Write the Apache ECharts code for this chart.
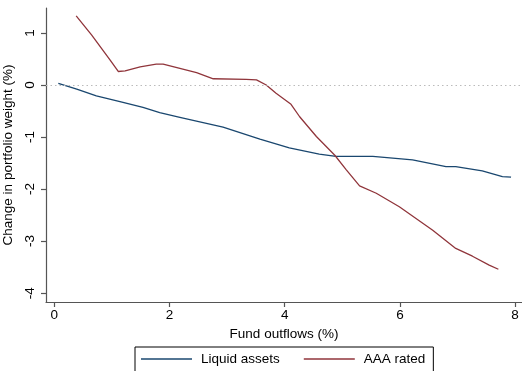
<!DOCTYPE html>
<html><head><meta charset="utf-8">
<script src="https://cdn.jsdelivr.net/npm/echarts@6/dist/echarts.min.js"></script>
<style>html,body{margin:0;padding:0;background:#fff}#c{width:522px;height:371px}</style>
</head><body><div id="c"></div>
<script>
const liquidX = [0.07,0.39,0.73,1.14,1.54,1.83,2.18,2.93,3.57,4.08,4.60,4.89,5.53,6.22,6.80,6.97,7.43,7.78,7.93];
const liquidY = [0.03,-0.08,-0.21,-0.32,-0.43,-0.53,-0.62,-0.81,-1.04,-1.21,-1.33,-1.37,-1.37,-1.44,-1.57,-1.57,-1.65,-1.76,-1.77];
const aaaX = [0.38,0.65,0.97,1.11,1.23,1.49,1.77,1.89,2.18,2.47,2.76,3.33,3.51,3.68,3.85,4.11,4.26,4.55,4.87,5.07,5.30,5.59,5.99,6.57,6.97,7.26,7.55,7.71];
const aaaY = [1.33,0.96,0.48,0.26,0.27,0.35,0.40,0.40,0.32,0.24,0.12,0.11,0.10,0.0,-0.16,-0.37,-0.61,-0.99,-1.35,-1.63,-1.94,-2.08,-2.34,-2.79,-3.14,-3.29,-3.46,-3.54];
const xTicks = [0,2,4,6,8];
const yTicks = [-4,-3,-2,-1,0,1];
const seriesNames = ['Liquid assets','AAA rated'];
const F = 'Liberation Sans, Arial, sans-serif';
const zip = (a,b)=>a.map((v,i)=>[v,b[i]]);
const chart = echarts.init(document.getElementById('c'));
chart.setOption({
  animation:false,
  backgroundColor:'#fff',
  grid:{left:46,top:8,right:0,bottom:69,containLabel:false,outerBoundsMode:'none'},
  xAxis:{type:'value',min:-0.144,max:8.12,
    name:'Fund outflows (%)',nameLocation:'middle',nameGap:21,
    nameTextStyle:{fontFamily:F,fontSize:13.5,color:'#000'},
    axisLine:{show:true,onZero:false,lineStyle:{color:'#555',width:1.2}},
    axisTick:{show:true,length:5,customValues:xTicks,lineStyle:{color:'#555',width:1.2}},
    axisLabel:{customValues:xTicks,margin:6,fontFamily:F,fontSize:13.5,color:'#000'},
    splitLine:{show:false}},
  yAxis:{type:'value',min:-4.17,max:1.48,
    name:'Change in portfolio weight (%)',nameLocation:'middle',nameGap:18,nameRotate:90,
    nameTextStyle:{fontFamily:F,fontSize:13.5,color:'#000'},
    axisLine:{show:true,onZero:false,lineStyle:{color:'#555',width:1.2}},
    axisTick:{show:true,length:5,customValues:yTicks,lineStyle:{color:'#555',width:1.2}},
    axisLabel:{customValues:yTicks,rotate:90,margin:9,fontFamily:F,fontSize:13.5,color:'#000'},
    splitLine:{show:false}},
  legend:{left:135,top:347,padding:[5,8,12,6],borderColor:'#000',borderWidth:1,
    itemWidth:51,itemHeight:1.5,itemGap:24,icon:'rect',
    textStyle:{fontFamily:F,fontSize:13.5,color:'#000',padding:[0,0,0,4]},
    data:seriesNames},
  series:[
    {name:seriesNames[0],type:'line',data:zip(liquidX,liquidY),showSymbol:false,symbol:'none',
     lineStyle:{color:'#1a476f',width:1.3},itemStyle:{color:'#1a476f'},
     markLine:{silent:true,symbol:'none',label:{show:false},
       lineStyle:{color:'#bbb',type:[1.5,3],width:1.2},data:[{yAxis:0}]}},
    {name:seriesNames[1],type:'line',data:zip(aaaX,aaaY),showSymbol:false,symbol:'none',
     lineStyle:{color:'#90353b',width:1.3},itemStyle:{color:'#90353b'}}
  ]
});
</script></body></html>
